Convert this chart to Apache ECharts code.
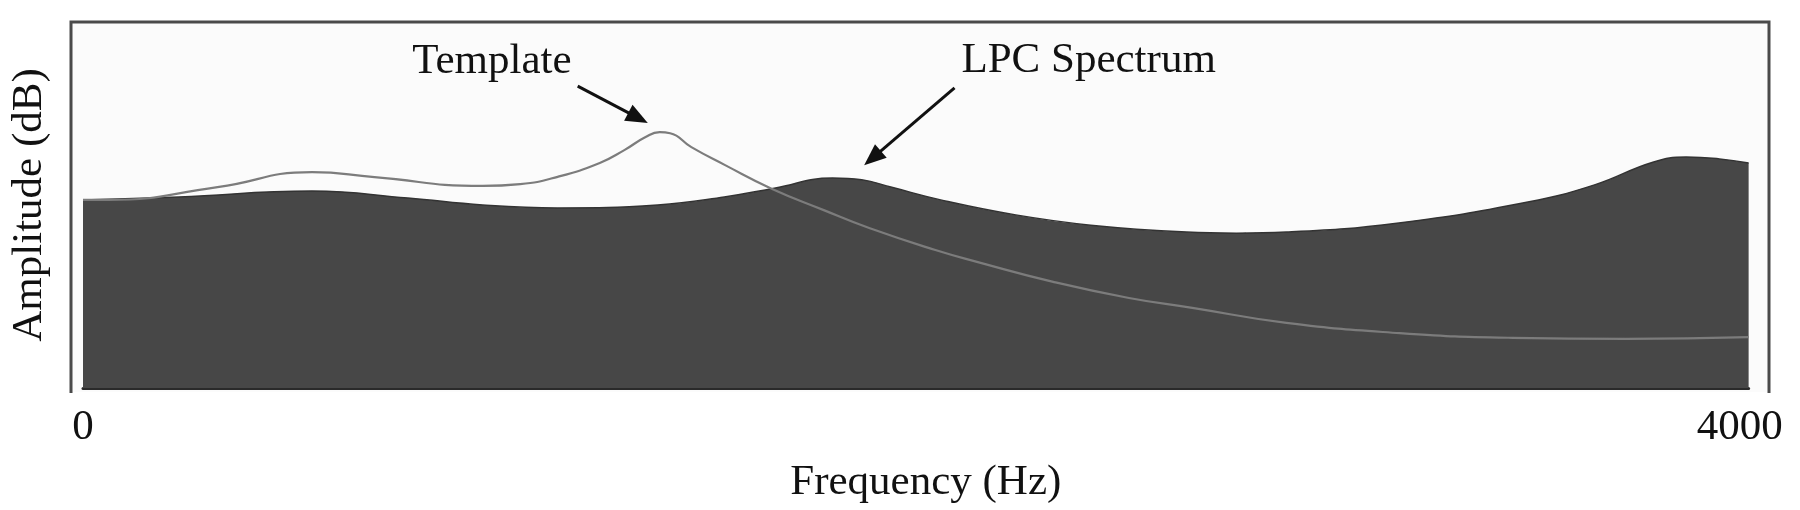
<!DOCTYPE html>
<html>
<head>
<meta charset="utf-8">
<script src="https://cdn.jsdelivr.net/npm/echarts@6/dist/echarts.min.js"></script>
<style>
  html, body { margin: 0; padding: 0; background: #ffffff; }
  #chart { width: 1800px; height: 510px; }
</style>
</head>
<body>
<div id="chart"></div>
<script>
// ---- data ----
const lpcFreq = [0, 230, 550, 780, 960, 1140, 1380, 1540, 1660, 1800, 1870, 1940, 2060, 2240, 2420, 2650, 2770, 2890, 3160, 3470, 3630, 3770, 3850, 3930, 4000];
const lpcDb   = [51.4, 52.2, 53.8, 51.9, 50.0, 49.2, 50.0, 52.2, 54.6, 57.4, 56.9, 54.9, 51.4, 47.3, 44.5, 42.6, 42.3, 42.6, 45.1, 50.8, 55.5, 61.7, 63.1, 62.6, 61.5];

const tplFreq = [0, 60, 323, 550, 700, 960, 1050, 1140, 1241, 1300, 1350, 1385, 1410, 1461, 1542, 1651, 1779, 1888, 2047, 2149, 2330, 2512, 2664, 2890, 3162, 3433, 3706, 4000];
const tplDb   = [51.4, 51.4, 54.9, 59.0, 57.6, 55.2, 55.7, 57.7, 61.5, 65.0, 68.5, 69.9, 69.6, 65.8, 60.9, 54.6, 48.6, 43.7, 37.7, 34.4, 29.0, 24.6, 21.9, 17.8, 15.0, 13.7, 13.4, 13.9];

const xTicks = [0, 4000];
const xName = 'Frequency (Hz)';
const yName = 'Amplitude (dB)';

// annotations: label text, label anchor, arrow tail, arrow head (data coords)
const annotations = [
  { text: 'Template',     at: [982, 89.1],  from: [1188, 82.5], to: [1333, 73.8] },
  { text: 'LPC Spectrum', at: [2415, 89.3], from: [2093, 82.0], to: [1896, 62.8] }
];

// ---- chart ----
const FONT = 'Liberation Serif';
const chart = echarts.init(document.getElementById('chart'), null, { renderer: 'canvas' });

const lpcData = lpcFreq.map((f, i) => [f, lpcDb[i]]);
const tplData = tplFreq.map((f, i) => [f, tplDb[i]]);

chart.setOption({
  animation: false,
  backgroundColor: '#ffffff',
  grid: { left: 77, right: 37, top: 22, bottom: 122, containLabel: false },
  graphic: [
    { type: 'rect', z: -10, shape: { x: 71, y: 22, width: 1699, height: 370 }, style: { fill: '#fbfbfb' } },
    { type: 'polyline', z: 10, shape: { points: [[71, 393], [71, 22], [1769, 22], [1769, 393]] },
      style: { stroke: '#4a4a4a', lineWidth: 3, fill: null } }
  ],
  xAxis: {
    type: 'value', min: xTicks[0], max: xTicks[xTicks.length - 1], interval: xTicks[1] - xTicks[0],
    name: xName, nameLocation: 'middle', nameGap: 73,
    nameTextStyle: { fontFamily: FONT, fontSize: 43, color: '#111', padding: [0, 0, 0, 20] },
    axisLine: { show: true, lineStyle: { color: '#2a2a2a', width: 3 } },
    axisTick: { show: false },
    splitLine: { show: false },
    axisLabel: {
      margin: 18, fontFamily: FONT, fontSize: 43, color: '#111',
      formatter: v => v === xTicks[0] ? '{v|' + v + '}' : '{v|' + v + '}{g1| }',
      rich: {
        v: { fontFamily: FONT, fontSize: 43, color: '#111' },
        g1: { width: 18, fontSize: 43 }
      }
    }
  },
  yAxis: {
    type: 'value', min: 0, max: 100,
    name: yName, nameLocation: 'middle', nameGap: 32, nameRotate: 90,
    nameTextStyle: { fontFamily: FONT, fontSize: 43, color: '#111' },
    axisLine: { show: false }, axisTick: { show: false }, axisLabel: { show: false },
    splitLine: { show: false }
  },
  series: [
    {
      name: 'LPC Spectrum', type: 'line', data: lpcData, smooth: 0.45, showSymbol: false, z: 2,
      lineStyle: { color: '#333333', width: 1.5 },
      areaStyle: { color: '#474747', opacity: 1 }
    },
    {
      name: 'Template', type: 'line', data: tplData, smooth: 0.5, showSymbol: false, z: 3,
      lineStyle: { color: '#7c7c7c', width: 2.2 },
      markLine: {
        silent: true, symbol: ['none', 'triangle'], symbolSize: 20,
        lineStyle: { color: '#111', width: 3, type: 'solid' },
        itemStyle: { color: '#111' },
        label: { show: false },
        data: annotations.map(a => [
          { coord: a.from, symbol: 'none' },
          { coord: a.to, symbol: 'triangle', symbolSize: [18, 22] }
        ])
      },
      markPoint: {
        silent: true, symbol: 'circle', symbolSize: 0,
        label: { show: true, position: 'inside', fontFamily: FONT, fontSize: 43, color: '#111',
                 formatter: p => p.name },
        data: annotations.map(a => ({ name: a.text, coord: a.at }))
      }
    }
  ]
});
</script>
</body>
</html>
